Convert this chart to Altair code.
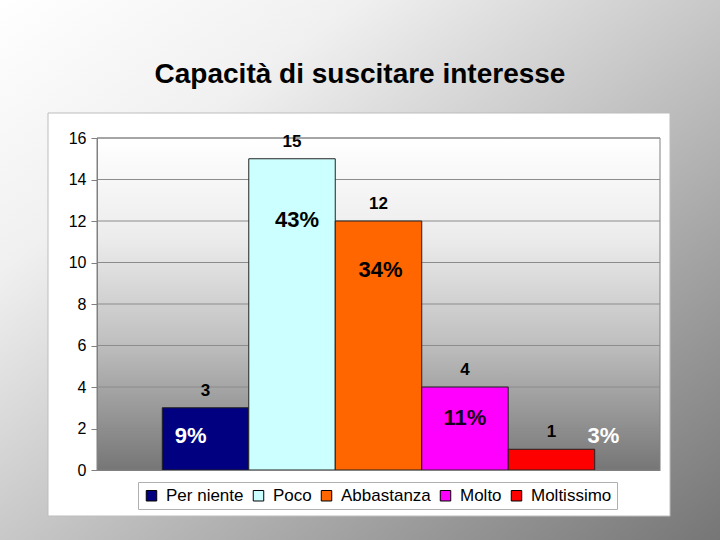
import altair as alt
import pandas as pd

# ---- data ----
categories = ["Per niente", "Poco", "Abbastanza", "Molto", "Moltissimo"]
counts = [3, 15, 12, 4, 1]
colors = ["#000080", "#CCFFFF", "#FF6600", "#FF00FF", "#FF0000"]
y_ticks = [0, 2, 4, 6, 8, 10, 12, 14, 16]
title_text = "Capacità di suscitare interesse"

# label styling (pixel offsets / colours for the percentage labels)
pct_dx = [-15, 5, 2, 0, 52]
pct_dy = [35, 68, 56, 38, -6]
pct_color = ["#ffffff", "#000000", "#000000", "#1a0020", "#ffffff"]

FONT = "Liberation Sans"
W, H = 563, 332
PAD_L, PAD_T = 97, 138

df = pd.DataFrame({"cat": categories, "value": counts})
one = pd.DataFrame({"a": [0]})

x_enc = alt.X("cat:N", sort=categories,
              scale=alt.Scale(paddingInner=0, paddingOuter=0.755),
              axis=alt.Axis(title=None, labels=False, ticks=False,
                            domainColor="#808080", zindex=1))
y_enc = alt.Y("value:Q", scale=alt.Scale(domain=[0, 16], nice=False),
              axis=alt.Axis(title=None, values=y_ticks, grid=False,
                            labelFontSize=16, labelColor="#000000",
                            labelFont=FONT, labelPadding=5,
                            tickSize=6, tickColor="#808080",
                            domainColor="#808080", zindex=1))

# slide background
slide_bg = alt.Chart(one).mark_rect(
    fill=alt.Gradient(gradient="linear",
                      stops=[alt.GradientStop(color="#ffffff", offset=0),
                             alt.GradientStop(color="#f0f0f0", offset=0.25),
                             alt.GradientStop(color="#c8c8c8", offset=0.5),
                             alt.GradientStop(color="#767676", offset=1)],
                      x1=0, y1=0, x2=1, y2=1)
).encode(x=alt.value(-PAD_L), x2=alt.value(720 - PAD_L),
         y=alt.value(-PAD_T), y2=alt.value(540 - PAD_T))

# white chart box
chart_box = alt.Chart(one).mark_rect(fill="#ffffff", stroke="#bdbdbd", strokeWidth=1).encode(
    x=alt.value(48 - PAD_L), x2=alt.value(670 - PAD_L),
    y=alt.value(113 - PAD_T), y2=alt.value(516 - PAD_T))

# plot area gradient
plot_bg = alt.Chart(one).mark_rect(
    fill=alt.Gradient(gradient="linear",
                      stops=[alt.GradientStop(color="#ffffff", offset=0),
                             alt.GradientStop(color="#ececec", offset=0.3),
                             alt.GradientStop(color="#c2c2c2", offset=0.6),
                             alt.GradientStop(color="#767676", offset=1)],
                      x1=0, y1=0, x2=0, y2=1),
    stroke="#808080", strokeWidth=1
).encode(x=alt.value(0), x2=alt.value(W), y=alt.value(0), y2=alt.value(H))

grid = alt.Chart(pd.DataFrame({"value": y_ticks[1:]})).mark_rule(
    color="#8c8c8c", strokeWidth=1
).encode(x=alt.value(0), x2=alt.value(W), y=y_enc)

base = alt.Chart(df)

bars = base.mark_bar(stroke="#222222", strokeWidth=1).encode(
    x=x_enc, y=y_enc,
    color=alt.Color("cat:N", sort=categories,
                    scale=alt.Scale(domain=categories, range=colors),
                    legend=alt.Legend(title=None, orient="none",
                                      legendX=41, legendY=344,
                                      direction="horizontal", columns=5,
                                      symbolType="square", symbolSize=110,
                                      symbolStrokeColor="#000000",
                                      symbolStrokeWidth=1,
                                      labelFontSize=17, labelFont=FONT,
                                      labelColor="#000000", labelOffset=6,
                                      columnPadding=6, padding=5,
                                      fillColor="#ffffff",
                                      strokeColor="#b0b0b0"))
)

value_labels = base.mark_text(font=FONT, fontSize=17, fontWeight="bold",
                              color="#000000", baseline="alphabetic", dy=-12).encode(
    x=alt.X("cat:N", sort=categories), y="value:Q", text="value:Q")

pct_layers = []
for i, c in enumerate(categories):
    pct_layers.append(
        base.transform_joinaggregate(total="sum(value)")
        .transform_calculate(pct="round(datum.value / datum.total * 100) + '%'")
        .transform_filter(alt.datum.cat == c)
        .mark_text(font=FONT, fontSize=22, fontWeight="bold",
                   color=pct_color[i], baseline="alphabetic",
                   dx=pct_dx[i], dy=pct_dy[i])
        .encode(x=alt.X("cat:N", sort=categories), y="value:Q", text="pct:N")
    )

title = alt.Chart(pd.DataFrame({"t": [title_text]})).mark_text(
    font=FONT, fontSize=28, fontWeight="bold", color="#000000",
    align="center", baseline="alphabetic"
).encode(text="t:N", x=alt.value(360 - PAD_L), y=alt.value(83 - PAD_T))

chart = alt.layer(slide_bg, chart_box, plot_bg, grid, bars, value_labels,
                  *pct_layers, title).properties(
    width=W, height=H,
    padding={"left": PAD_L, "top": PAD_T, "right": 720 - PAD_L - W,
             "bottom": 540 - PAD_T - H},
    autosize=alt.AutoSizeParams(type="none"),
    background="#ffffff",
).configure_view(stroke=None).configure(font=FONT)

chart.save("out.html", embed_options={"renderer": "svg", "actions": False})
